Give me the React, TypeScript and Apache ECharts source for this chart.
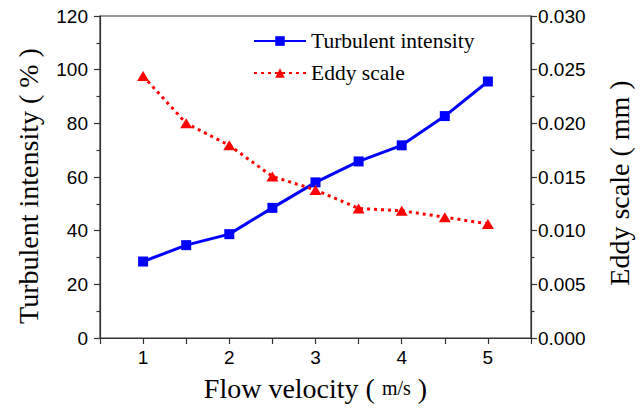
import React, { useEffect, useRef } from "react";
import * as echarts from "echarts";

const velocity = [1, 1.5, 2, 2.5, 3, 3.5, 4, 4.5, 5];
const turbulentIntensity = [28.5, 34.6, 38.7, 48.5, 58, 65.8, 71.8, 82.7, 95.6];
const eddyScale = [0.0244, 0.02, 0.01795, 0.01505, 0.0138, 0.01207, 0.01185, 0.01126, 0.01063];

const SERIF = "'Liberation Serif', 'Times New Roman', serif";
const SANS = "'Liberation Sans', Arial, sans-serif";

export default function App() {
  const ref = useRef<HTMLDivElement>(null);
  useEffect(() => {
    if (!ref.current) return;
    const chart = echarts.init(ref.current, undefined, { renderer: "svg" });
    const axisLine = { show: true, lineStyle: { color: "#333", width: 1.2 } };
    const axisTick = { show: true, length: 6, lineStyle: { color: "#333", width: 1.2 } };
    const minorTick = { show: true, splitNumber: 2, length: 3.5, lineStyle: { color: "#333", width: 1.2 } };
    chart.setOption({
      animation: false,
      backgroundColor: "#fff",
      grid: { left: 100, right: 113, top: 16, bottom: 72, show: true, borderColor: "#333", borderWidth: 1.2, backgroundColor: "transparent" },
      legend: {
        orient: "vertical",
        left: 248,
        top: 25,
        itemWidth: 52,
        itemHeight: 12,
        itemGap: 10,
        textStyle: { fontFamily: SERIF, fontSize: 21.5, color: "#000" },
        data: ["Turbulent intensity", "Eddy scale"],
      },
      xAxis: {
        type: "value",
        min: 0.5,
        max: 5.5,
        interval: 0.5,
        name: "{a|Flow velocity ( }{b|m/s}{a| )}",
        nameLocation: "middle",
        nameGap: 36,
        nameTextStyle: {
          rich: {
            a: { fontFamily: SERIF, fontSize: 28, color: "#000" },
            b: { fontFamily: SERIF, fontSize: 20, color: "#000" },
          },
        },
        axisLine,
        axisTick,
        splitLine: { show: false },
        axisLabel: {
          fontFamily: SANS,
          fontSize: 19,
          color: "#000",
          margin: 10,
          formatter: (v: number) => (Number.isInteger(v) && v >= 1 && v <= 5 ? String(v) : ""),
        },
      },
      yAxis: [
        {
          type: "value",
          min: 0,
          max: 120,
          interval: 20,
          name: "Turbulent intensity ( % )",
          nameLocation: "middle",
          nameGap: 58,
          nameTextStyle: { fontFamily: SERIF, fontSize: 28, color: "#000", padding: [0, 18, 0, 0] },
          axisLine,
          axisTick,
          minorTick,
          splitLine: { show: false },
          axisLabel: { fontFamily: SANS, fontSize: 19, color: "#000", margin: 12 },
        },
        {
          type: "value",
          min: 0,
          max: 0.03,
          interval: 0.005,
          position: "right",
          name: "Eddy scale ( mm )",
          nameLocation: "middle",
          nameGap: 74,
          nameTextStyle: { fontFamily: SERIF, fontSize: 28, color: "#000", padding: [0, 12, 0, 0] },
          axisLine,
          axisTick,
          minorTick,
          splitLine: { show: false },
          axisLabel: { fontFamily: SANS, fontSize: 19, color: "#000", margin: 7, formatter: (v: number) => v.toFixed(3) },
        },
      ],
      series: [
        {
          name: "Turbulent intensity",
          type: "line",
          yAxisIndex: 0,
          data: velocity.map((x, i) => [x, turbulentIntensity[i]]),
          symbol: "rect",
          symbolSize: 10,
          itemStyle: { color: "#0000FF" },
          lineStyle: { color: "#0000FF", width: 3 },
        },
        {
          name: "Eddy scale",
          type: "line",
          yAxisIndex: 1,
          data: velocity.map((x, i) => [x, eddyScale[i]]),
          symbol: "triangle",
          symbolSize: [12, 10],
          itemStyle: { color: "#FF0000" },
          lineStyle: { color: "#FF0000", width: 3, type: [3, 4] },
        },
      ],
    });
    return () => chart.dispose();
  }, []);
  return <div ref={ref} style={{ width: 644, height: 410, position: "absolute", left: 0, top: 0 }} />;
}
